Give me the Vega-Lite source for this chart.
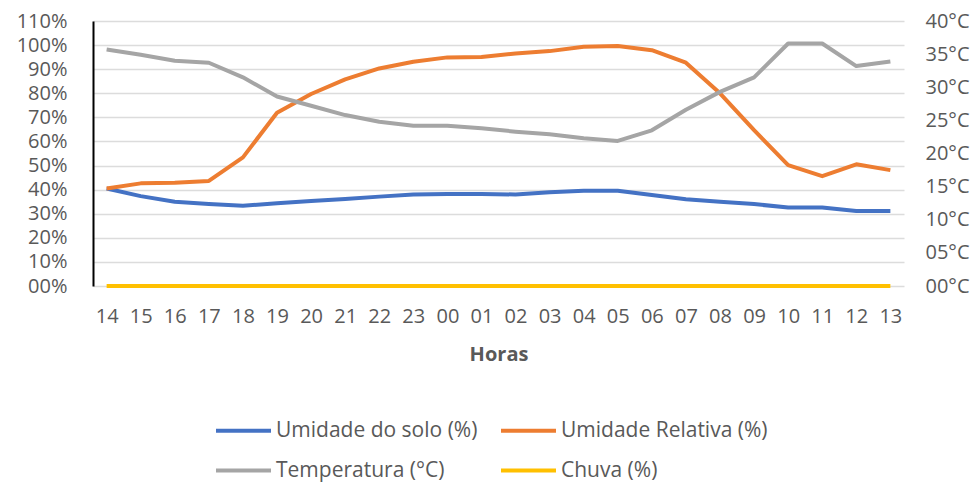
{
  "$schema": "https://vega.github.io/schema/vega-lite/v6.json",
  "width": 811,
  "height": 265,
  "autosize": {"type": "none"},
  "padding": {"left": 93, "top": 21, "right": 76, "bottom": 204},
  "background": "white",
  "config": {
    "font": "Open Sans",
    "view": {"stroke": null},
    "axis": {"labelColor": "#595959", "labelFontSize": 20, "titleColor": "#595959", "labelFont": "Open Sans"}
  },
  "data": {
    "values": [
      {"hora": "14", "serie": "Umidade do solo (%)", "valor": 40.5},
      {"hora": "15", "serie": "Umidade do solo (%)", "valor": 37.3},
      {"hora": "16", "serie": "Umidade do solo (%)", "valor": 35.0},
      {"hora": "17", "serie": "Umidade do solo (%)", "valor": 34.0},
      {"hora": "18", "serie": "Umidade do solo (%)", "valor": 33.3},
      {"hora": "19", "serie": "Umidade do solo (%)", "valor": 34.3},
      {"hora": "20", "serie": "Umidade do solo (%)", "valor": 35.3},
      {"hora": "21", "serie": "Umidade do solo (%)", "valor": 36.1},
      {"hora": "22", "serie": "Umidade do solo (%)", "valor": 37.1},
      {"hora": "23", "serie": "Umidade do solo (%)", "valor": 38.0},
      {"hora": "00", "serie": "Umidade do solo (%)", "valor": 38.2},
      {"hora": "01", "serie": "Umidade do solo (%)", "valor": 38.2},
      {"hora": "02", "serie": "Umidade do solo (%)", "valor": 38.0},
      {"hora": "03", "serie": "Umidade do solo (%)", "valor": 38.9},
      {"hora": "04", "serie": "Umidade do solo (%)", "valor": 39.5},
      {"hora": "05", "serie": "Umidade do solo (%)", "valor": 39.5},
      {"hora": "06", "serie": "Umidade do solo (%)", "valor": 37.8},
      {"hora": "07", "serie": "Umidade do solo (%)", "valor": 36.0},
      {"hora": "08", "serie": "Umidade do solo (%)", "valor": 35.0},
      {"hora": "09", "serie": "Umidade do solo (%)", "valor": 34.0},
      {"hora": "10", "serie": "Umidade do solo (%)", "valor": 32.6},
      {"hora": "11", "serie": "Umidade do solo (%)", "valor": 32.6},
      {"hora": "12", "serie": "Umidade do solo (%)", "valor": 31.1},
      {"hora": "13", "serie": "Umidade do solo (%)", "valor": 31.1},
      {"hora": "14", "serie": "Umidade Relativa (%)", "valor": 40.5},
      {"hora": "15", "serie": "Umidade Relativa (%)", "valor": 42.6},
      {"hora": "16", "serie": "Umidade Relativa (%)", "valor": 42.9},
      {"hora": "17", "serie": "Umidade Relativa (%)", "valor": 43.6},
      {"hora": "18", "serie": "Umidade Relativa (%)", "valor": 53.4},
      {"hora": "19", "serie": "Umidade Relativa (%)", "valor": 71.9},
      {"hora": "20", "serie": "Umidade Relativa (%)", "valor": 79.7},
      {"hora": "21", "serie": "Umidade Relativa (%)", "valor": 85.8},
      {"hora": "22", "serie": "Umidade Relativa (%)", "valor": 90.3},
      {"hora": "23", "serie": "Umidade Relativa (%)", "valor": 93.1},
      {"hora": "00", "serie": "Umidade Relativa (%)", "valor": 94.9},
      {"hora": "01", "serie": "Umidade Relativa (%)", "valor": 95.1},
      {"hora": "02", "serie": "Umidade Relativa (%)", "valor": 96.5},
      {"hora": "03", "serie": "Umidade Relativa (%)", "valor": 97.5},
      {"hora": "04", "serie": "Umidade Relativa (%)", "valor": 99.3},
      {"hora": "05", "serie": "Umidade Relativa (%)", "valor": 99.6},
      {"hora": "06", "serie": "Umidade Relativa (%)", "valor": 97.9},
      {"hora": "07", "serie": "Umidade Relativa (%)", "valor": 92.7},
      {"hora": "08", "serie": "Umidade Relativa (%)", "valor": 80.0},
      {"hora": "09", "serie": "Umidade Relativa (%)", "valor": 64.7},
      {"hora": "10", "serie": "Umidade Relativa (%)", "valor": 50.2},
      {"hora": "11", "serie": "Umidade Relativa (%)", "valor": 45.6},
      {"hora": "12", "serie": "Umidade Relativa (%)", "valor": 50.5},
      {"hora": "13", "serie": "Umidade Relativa (%)", "valor": 48.1},
      {"hora": "14", "serie": "Chuva (%)", "valor": 0},
      {"hora": "15", "serie": "Chuva (%)", "valor": 0},
      {"hora": "16", "serie": "Chuva (%)", "valor": 0},
      {"hora": "17", "serie": "Chuva (%)", "valor": 0},
      {"hora": "18", "serie": "Chuva (%)", "valor": 0},
      {"hora": "19", "serie": "Chuva (%)", "valor": 0},
      {"hora": "20", "serie": "Chuva (%)", "valor": 0},
      {"hora": "21", "serie": "Chuva (%)", "valor": 0},
      {"hora": "22", "serie": "Chuva (%)", "valor": 0},
      {"hora": "23", "serie": "Chuva (%)", "valor": 0},
      {"hora": "00", "serie": "Chuva (%)", "valor": 0},
      {"hora": "01", "serie": "Chuva (%)", "valor": 0},
      {"hora": "02", "serie": "Chuva (%)", "valor": 0},
      {"hora": "03", "serie": "Chuva (%)", "valor": 0},
      {"hora": "04", "serie": "Chuva (%)", "valor": 0},
      {"hora": "05", "serie": "Chuva (%)", "valor": 0},
      {"hora": "06", "serie": "Chuva (%)", "valor": 0},
      {"hora": "07", "serie": "Chuva (%)", "valor": 0},
      {"hora": "08", "serie": "Chuva (%)", "valor": 0},
      {"hora": "09", "serie": "Chuva (%)", "valor": 0},
      {"hora": "10", "serie": "Chuva (%)", "valor": 0},
      {"hora": "11", "serie": "Chuva (%)", "valor": 0},
      {"hora": "12", "serie": "Chuva (%)", "valor": 0},
      {"hora": "13", "serie": "Chuva (%)", "valor": 0},
      {"hora": "14", "serie": "Temperatura (°C)", "valor": 35.7},
      {"hora": "15", "serie": "Temperatura (°C)", "valor": 34.9},
      {"hora": "16", "serie": "Temperatura (°C)", "valor": 34.0},
      {"hora": "17", "serie": "Temperatura (°C)", "valor": 33.7},
      {"hora": "18", "serie": "Temperatura (°C)", "valor": 31.5},
      {"hora": "19", "serie": "Temperatura (°C)", "valor": 28.6},
      {"hora": "20", "serie": "Temperatura (°C)", "valor": 27.2},
      {"hora": "21", "serie": "Temperatura (°C)", "valor": 25.8},
      {"hora": "22", "serie": "Temperatura (°C)", "valor": 24.8},
      {"hora": "23", "serie": "Temperatura (°C)", "valor": 24.2},
      {"hora": "00", "serie": "Temperatura (°C)", "valor": 24.2},
      {"hora": "01", "serie": "Temperatura (°C)", "valor": 23.8},
      {"hora": "02", "serie": "Temperatura (°C)", "valor": 23.3},
      {"hora": "03", "serie": "Temperatura (°C)", "valor": 22.9},
      {"hora": "04", "serie": "Temperatura (°C)", "valor": 22.3},
      {"hora": "05", "serie": "Temperatura (°C)", "valor": 21.9},
      {"hora": "06", "serie": "Temperatura (°C)", "valor": 23.5},
      {"hora": "07", "serie": "Temperatura (°C)", "valor": 26.6},
      {"hora": "08", "serie": "Temperatura (°C)", "valor": 29.3},
      {"hora": "09", "serie": "Temperatura (°C)", "valor": 31.5},
      {"hora": "10", "serie": "Temperatura (°C)", "valor": 36.6},
      {"hora": "11", "serie": "Temperatura (°C)", "valor": 36.6},
      {"hora": "12", "serie": "Temperatura (°C)", "valor": 33.2},
      {"hora": "13", "serie": "Temperatura (°C)", "valor": 33.9}
    ]
  },
  "encoding": {
    "x": {
      "field": "hora",
      "type": "ordinal",
      "sort": ["14","15","16","17","18","19","20","21","22","23","00","01","02","03","04","05","06","07","08","09","10","11","12","13"],
      "scale": {"padding": 0.4},
      "axis": {
        "title": "Horas",
        "titleFontWeight": "bold",
        "titleFontSize": 20,
        "titlePadding": 18,
        "labelAngle": 0,
        "labelPadding": 20,
        "domain": false,
        "ticks": false,
        "grid": false
      }
    },
    "color": {
      "field": "serie",
      "type": "nominal",
      "scale": {
        "domain": ["Umidade do solo (%)", "Temperatura (°C)", "Umidade Relativa (%)", "Chuva (%)"],
        "range": ["#4472C4", "#A5A5A5", "#ED7D31", "#FFC000"]
      },
      "legend": {
        "title": null,
        "orient": "none",
        "legendX": 121,
        "legendY": 380,
        "columns": 2,
        "columnPadding": 15,
        "rowPadding": -15,
        "symbolType": "stroke",
        "symbolSize": 3025,
        "symbolStrokeWidth": 4,
        "labelOffset": 3,
        "labelFontSize": 21,
        "labelColor": "#595959",
        "labelFont": "Open Sans",
        "labelLimit": 0
      }
    }
  },
  "layer": [
    {
      "transform": [{"filter": "datum.serie !== 'Temperatura (°C)'"}],
      "mark": {"type": "line", "strokeWidth": 4, "strokeJoin": "round"},
      "encoding": {
        "y": {
          "field": "valor",
          "type": "quantitative",
          "scale": {"domain": [0, 110], "nice": false},
          "axis": {
            "title": null,
            "values": [0, 10, 20, 30, 40, 50, 60, 70, 80, 90, 100, 110],
            "labelExpr": "(datum.value < 10 ? '0' : '') + datum.value + '%'",
            "grid": true,
            "gridColor": "#dcdcdc",
            "gridWidth": 1.5,
            "domainColor": "#000000",
            "domainWidth": 2,
            "ticks": false,
            "labelPadding": 26
          }
        }
      }
    },
    {
      "transform": [{"filter": "datum.serie === 'Temperatura (°C)'"}],
      "mark": {"type": "line", "strokeWidth": 4, "strokeJoin": "round"},
      "encoding": {
        "y": {
          "field": "valor",
          "type": "quantitative",
          "scale": {"domain": [0, 40], "nice": false},
          "axis": {
            "orient": "right",
            "title": null,
            "values": [0, 5, 10, 15, 20, 25, 30, 35, 40],
            "labelExpr": "(datum.value < 10 ? '0' : '') + datum.value + '°C'",
            "grid": false,
            "domain": false,
            "ticks": false,
            "labelPadding": 21
          }
        }
      }
    }
  ],
  "resolve": {"scale": {"y": "independent"}}
}
